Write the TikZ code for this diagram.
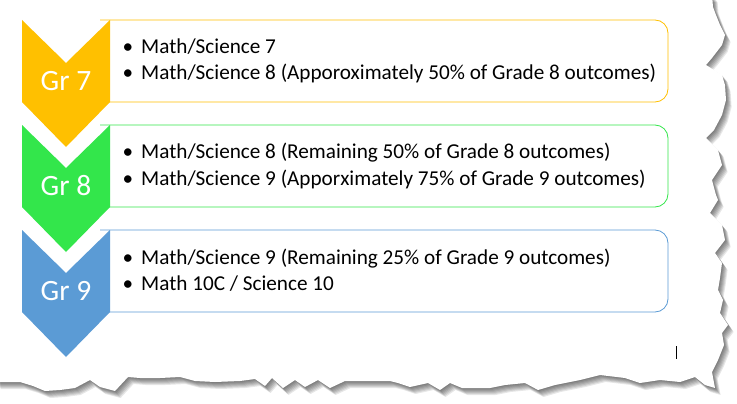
\documentclass[tikz,border=0pt]{standalone}
\usepackage{fontspec}
\setmainfont{Carlito}
\definecolor{gold}{HTML}{FFC000}
\definecolor{lgreen}{HTML}{33E64B}
\definecolor{sblue}{HTML}{5B9BD5}
\begin{document}
\begin{tikzpicture}[x=1pt,y=-1pt,
  chev/.style={fill=#1,draw=none},
  listbox/.style={draw=#1,line width=0.8pt,rounded corners=13pt},
  grlabel/.style={text=white,font=\fontsize{29.5}{32}\selectfont,inner sep=0pt},
  bullets/.style={anchor=west,align=left,inner sep=0pt,font=\fontsize{21.2}{26.5}\selectfont},
]
\useasboundingbox (0,0) rectangle (737,404);
\def\paperedge{(-5,-5) -- (712,-5) -- (713,7) -- (716,15) -- (720,25) -- (725,35) -- (722,45) -- (712,58) -- (706,65) -- (722,75) -- (725,85) -- (726,100) -- (722,115) -- (714,130) -- (706,138) -- (718,150) -- (722,165) -- (712,180) -- (716,195) -- (718,200) -- (710,213) -- (722,225) -- (725,240) -- (715,253) -- (722,263) -- (720,278) -- (718,290) -- (723,300) -- (720,313) -- (728,325) -- (722,333) -- (724,345) -- (718,360) -- (712,372) -- (715,388)
 -- (705,385) -- (695,377) -- (680,382) -- (660,380) -- (640,383) -- (625,378) -- (600,375) -- (580,380) -- (555,385) -- (538,390) -- (525,383) -- (505,385) -- (490,388) -- (462,388) -- (450,383) -- (440,390) -- (428,383) -- (410,387) -- (398,383) -- (390,381) -- (370,381) -- (345,381) -- (330,388) -- (318,380) -- (305,387) -- (295,380) -- (283,388) -- (272,378) -- (265,386) -- (255,379) -- (240,381) -- (215,382) -- (195,381) -- (180,377) -- (160,378) -- (140,378) -- (128,377) -- (115,391) -- (100,387) -- (90,380) -- (75,388) -- (60,390) -- (45,391) -- (33,386) -- (20,382) -- (8,382) -- (-5,382) -- cycle}
% torn paper shadow
\foreach \i in {1,...,7}{
  \fill[black,opacity=0.095] [shift={(0.8*\i,1.0*\i)}] \paperedge;
}
\fill[white] \paperedge;
% boxes
\draw[listbox=gold] (100,20) -- (668,20) -- (668,102) -- (100,102);
\draw[listbox=lgreen] (100,125) -- (668,125) -- (668,207) -- (100,207);
\draw[listbox=sblue] (100,230) -- (668,230) -- (668,312) -- (100,312);
% chevrons
\fill[chev=gold] (22,20) -- (66,63) -- (110,20) -- (110,102) -- (66,147) -- (22,102) -- cycle;
\fill[chev=lgreen] (22,125) -- (66,168) -- (110,125) -- (110,207) -- (66,252) -- (22,207) -- cycle;
\fill[chev=sblue] (22,230) -- (66,273) -- (110,230) -- (110,312) -- (66,357) -- (22,312) -- cycle;
\node[grlabel] (g7) at (66,81) {Gr 7};
\node[grlabel] (g8) at (66,186) {Gr 8};
\node[grlabel] (g9) at (66,291) {Gr 9};
\node[bullets] (t7) at (122.5,61) {\makebox[18.5pt][l]{•}Math/Science 7\\\makebox[18.5pt][l]{•}Math/Science 8 (Apporoximately 50\% of Grade 8 outcomes)};
\node[bullets] (t8) at (122.5,166) {\makebox[18.5pt][l]{•}Math/Science 8 (Remaining 50\% of Grade 8 outcomes)\\\makebox[18.5pt][l]{•}Math/Science 9 (Apporximately 75\% of Grade 9 outcomes)};
\node[bullets] (t9) at (122.5,270) {\makebox[18.5pt][l]{•}Math/Science 9 (Remaining 25\% of Grade 9 outcomes)\\\makebox[18.5pt][l]{•}Math 10C / Science 10};
% text cursor
\coordinate (cur1) at (676.5,346);
\coordinate (cur2) at (676.5,359);
\draw[line width=0.8pt] (cur1) -- (cur2);
\end{tikzpicture}
\end{document}
